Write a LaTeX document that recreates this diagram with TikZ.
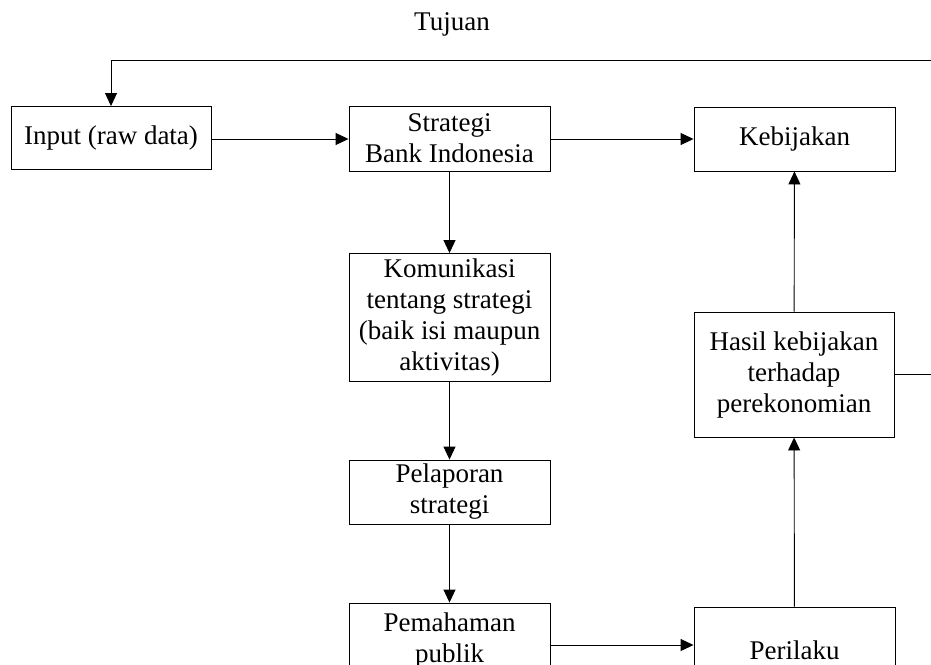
\documentclass[tikz,border=0pt]{standalone}
\usepackage{fontspec}
\setmainfont{Liberation Serif}
\usetikzlibrary{arrows.meta}
\begin{document}
\begin{tikzpicture}[x=1pt,y=-1pt,
  every node/.style={font=\fontsize{27}{31}\selectfont},
  box/.style={draw=black,line width=0.9pt,align=center,inner sep=0pt,minimum width=201pt},
  conn/.style={draw=black,line width=0.9pt},
  arr/.style={conn,-{Triangle[length=13pt,width=12pt]}}]
\useasboundingbox (0,0) rectangle (931,664);
\clip (0,0) rectangle (931,664);
\node (tujuan) at (452,24) {Tujuan};
\node[box,minimum width=200pt,minimum height=63pt] (input) at (111,138) {Input (raw data)};
\node[box,minimum height=65pt] (strategi) at (449.5,138.5) {Strategi\\Bank Indonesia};
\node[box,minimum height=64pt] (kebijakan) at (794.5,139) {Kebijakan};
\node[box,minimum height=128pt] (komunikasi) at (449.5,317.5) {Komunikasi\\tentang strategi\\(baik isi maupun\\aktivitas)};
\node[box,minimum height=64pt] (pelaporan) at (449.5,492) {Pelaporan\\strategi};
\node[box,minimum height=74pt] (pemahaman) at (449.5,640) {Pemahaman\\publik};
\node[box,minimum height=86pt] (perilaku) at (794.5,650) {Perilaku};
\node[box,minimum width=200pt,minimum height=125pt] (hasil) at (794,374.5) {Hasil kebijakan\\terhadap\\perekonomian};
\coordinate (fbr) at (945,374.5);
\coordinate (fbt) at (945,60);
\draw[arr] (input.east |- 0,139) -- (strategi.west |- 0,139);
\draw[arr] (strategi.east |- 0,139) -- (kebijakan.west |- 0,139);
\draw[arr] (strategi) -- (komunikasi);
\draw[arr] (komunikasi) -- (pelaporan);
\draw[arr] (pelaporan) -- (pemahaman);
\draw[arr] (pemahaman.east |- 0,645) -- (perilaku.west |- 0,645);
\draw[arr] (perilaku) -- (hasil);
\draw[arr] (hasil) -- (kebijakan);
\draw[arr] (hasil.east) -- (fbr) -- (fbt) -- (input.north |- fbt) -- (input.north);
\end{tikzpicture}
\end{document}
